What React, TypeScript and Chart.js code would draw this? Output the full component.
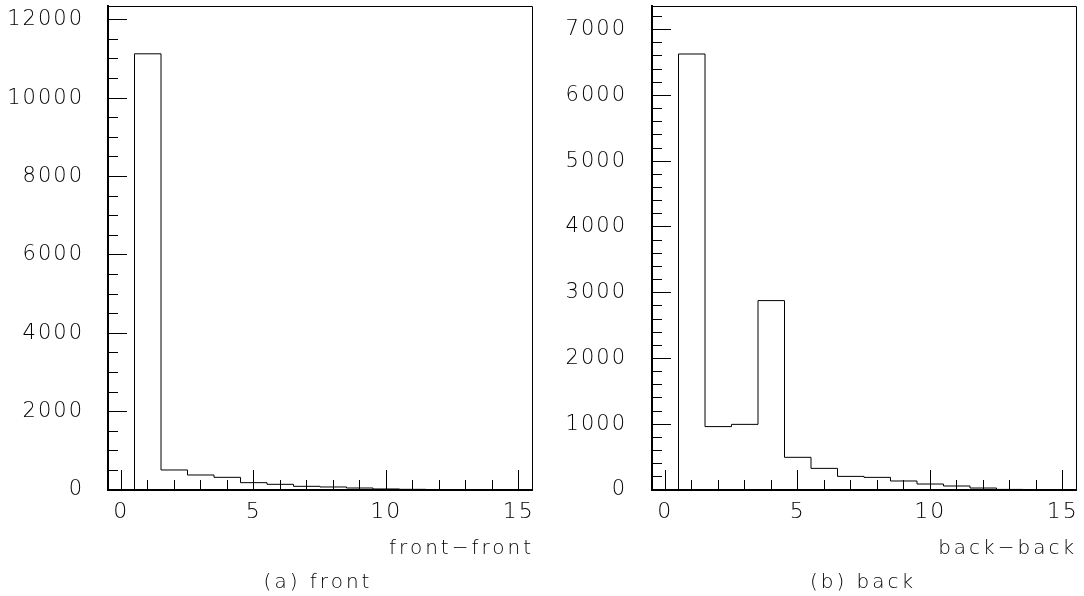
import React, { useEffect, useRef } from "react";
import { Chart, registerables } from "chart.js";

Chart.register(...registerables);

// ---- data ----
const BIN_CENTERS = [0, 1, 2, 3, 4, 5, 6, 7, 8, 9, 10, 11, 12, 13, 14, 15];
const BIN_WIDTH = 1;
const FRONT_COUNTS = [0, 11130, 511, 383, 323, 187, 145, 94, 77, 51, 26, 17, 8, 5, 3, 2];
const BACK_COUNTS = [0, 6630, 964, 998, 2880, 497, 329, 207, 192, 137, 91, 61, 30, 9, 7, 3];

const X_MAJOR_TICKS = [0, 5, 10, 15];
const X_MINOR_TICKS = [0, 1, 2, 3, 4, 5, 6, 7, 8, 9, 10, 11, 12, 13, 14, 15];
const FRONT_Y_MAJOR = [0, 2000, 4000, 6000, 8000, 10000, 12000];
const FRONT_Y_MINOR = [
  0, 500, 1000, 1500, 2000, 2500, 3000, 3500, 4000, 4500, 5000, 5500, 6000,
  6500, 7000, 7500, 8000, 8500, 9000, 9500, 10000, 10500, 11000, 11500, 12000,
];
const BACK_Y_MAJOR = [0, 1000, 2000, 3000, 4000, 5000, 6000, 7000];
const BACK_Y_MINOR = [
  0, 200, 400, 600, 800, 1000, 1200, 1400, 1600, 1800, 2000, 2200, 2400, 2600,
  2800, 3000, 3200, 3400, 3600, 3800, 4000, 4200, 4400, 4600, 4800, 5000, 5200,
  5400, 5600, 5800, 6000, 6200, 6400, 6600, 6800, 7000, 7200,
];
const X_MIN = -0.5;
const X_MAX = 15.5;
const FRONT_Y_MAX = 12350;
const BACK_Y_MAX = 7360;

const FONT = "'DejaVu Sans', 'Liberation Sans', sans-serif";

type PanelSpec = {
  counts: number[];
  yMax: number;
  yMajor: number[];
  yMinor: number[];
  yAxisWidth: number;
  yLabelPadding: number;
  rightPad: number;
};

const spacingPlugin = {
  id: "letterSpacing",
  beforeDraw(chart: any) {
    chart.ctx.letterSpacing = "2px";
  },
  afterDraw(chart: any) {
    chart.ctx.letterSpacing = "0px";
  },
};

const framePlugin = {
  id: "frameTopRight",
  afterDraw(chart: any) {
    const { ctx, chartArea } = chart;
    ctx.save();
    ctx.strokeStyle = "#000";
    ctx.lineWidth = 1;
    ctx.beginPath();
    ctx.moveTo(chartArea.left, Math.round(chartArea.top) + 0.5);
    ctx.lineTo(Math.round(chartArea.right) + 0.5, Math.round(chartArea.top) + 0.5);
    ctx.lineTo(Math.round(chartArea.right) + 0.5, chartArea.bottom);
    ctx.stroke();
    ctx.restore();
  },
};

function histPoints(counts: number[]) {
  const pts = counts.map((c, i) => ({ x: BIN_CENTERS[i] - BIN_WIDTH / 2, y: c }));
  const last = counts.length - 1;
  pts.push({ x: BIN_CENTERS[last] + BIN_WIDTH / 2, y: counts[last] });
  return pts;
}

function setTicks(values: number[]) {
  return (scale: any) => {
    scale.ticks = values.map((v) => ({ value: v }));
  };
}

function fixSize(prop: "width" | "height", size: number) {
  return (s: any) => {
    s[prop] = size;
    s.paddingTop = 0;
    s.paddingBottom = 0;
    s.paddingLeft = 0;
    s.paddingRight = 0;
  };
}

function Panel({ spec, style }: { spec: PanelSpec; style: React.CSSProperties }) {
  const ref = useRef<HTMLCanvasElement | null>(null);
  useEffect(() => {
    if (!ref.current) return;
    const chart = new Chart(ref.current, {
      type: "line",
      data: {
        datasets: [
          {
            data: histPoints(spec.counts),
            stepped: "before",
            borderColor: "#000",
            borderWidth: 1,
            pointRadius: 0,
            fill: false,
            xAxisID: "x",
            yAxisID: "y",
          } as any,
        ],
      },
      options: {
        animation: false,
        responsive: false,
        devicePixelRatio: 1,
        events: [],
        layout: { padding: { top: 6, right: spec.rightPad, left: 0, bottom: 0 } },
        plugins: { legend: { display: false }, tooltip: { enabled: false } },
        scales: {
          x: {
            type: "linear",
            position: "bottom",
            weight: 1,
            min: X_MIN,
            max: X_MAX,
            afterBuildTicks: setTicks(X_MAJOR_TICKS),
            afterFit: fixSize("height", 106),
            grid: { drawOnChartArea: false, tickLength: -20, tickColor: "#000", tickWidth: 1 },
            border: { display: true, color: "#000", width: 2 },
            ticks: {
              padding: 29,
              color: "#000",
              autoSkip: false,
              maxRotation: 0,
              font: { family: FONT, size: 22, weight: "200" as any },
              callback: (v: any) => String(v),
            },
          },
          xMinor: {
            type: "linear",
            position: "bottom",
            weight: 0,
            min: X_MIN,
            max: X_MAX,
            afterBuildTicks: setTicks(X_MINOR_TICKS),
            afterFit: fixSize("height", 0),
            grid: { drawOnChartArea: false, tickLength: -10, tickColor: "#000", tickWidth: 1 },
            border: { display: false },
            ticks: { display: false },
          },
          y: {
            type: "linear",
            position: "left",
            weight: 1,
            min: 0,
            max: spec.yMax,
            afterBuildTicks: setTicks(spec.yMajor),
            afterFit: fixSize("width", spec.yAxisWidth),
            grid: { drawOnChartArea: false, tickLength: -19, tickColor: "#000", tickWidth: 1 },
            border: { display: true, color: "#000", width: 2 },
            ticks: {
              padding: spec.yLabelPadding,
              color: "#000",
              autoSkip: false,
              font: { family: FONT, size: 21, weight: "200" as any },
              callback: (v: any) => String(v),
            },
          },
          yMinor: {
            type: "linear",
            position: "left",
            weight: 0,
            min: 0,
            max: spec.yMax,
            afterBuildTicks: setTicks(spec.yMinor),
            afterFit: fixSize("width", 0),
            grid: { drawOnChartArea: false, tickLength: -10, tickColor: "#000", tickWidth: 1 },
            border: { display: false },
            ticks: { display: false },
          },
        },
      } as any,
      plugins: [spacingPlugin, framePlugin],
    });
    return () => chart.destroy();
  }, [spec]);
  return <canvas ref={ref} width={542} height={596} style={{ display: "block", position: "absolute", ...style }} />;
}

const FRONT_SPEC: PanelSpec = {
  counts: FRONT_COUNTS,
  yMax: FRONT_Y_MAX,
  yMajor: FRONT_Y_MAJOR,
  yMinor: FRONT_Y_MINOR,
  yAxisWidth: 108,
  yLabelPadding: 43,
  rightPad: 10,
};

const BACK_SPEC: PanelSpec = {
  counts: BACK_COUNTS,
  yMax: BACK_Y_MAX,
  yMajor: BACK_Y_MAJOR,
  yMinor: BACK_Y_MINOR,
  yAxisWidth: 110,
  yLabelPadding: 44,
  rightPad: 8,
};

const textStyle: React.CSSProperties = {
  position: "absolute",
  fontFamily: FONT,
  fontWeight: 200,
  fontSize: "20px",
  lineHeight: "20px",
  letterSpacing: "3px",
  color: "#000",
  whiteSpace: "nowrap",
};

export default function App() {
  return (
    <div style={{ position: "absolute", left: 0, top: 0, width: 1084, height: 596, background: "#fff", overflow: "hidden" }}>
      <Panel spec={FRONT_SPEC} style={{ left: 0, top: 0 }} />
      <Panel spec={BACK_SPEC} style={{ left: 542, top: 0 }} />
      <div style={{ ...textStyle, right: 1084 - 534, top: 537 }}>front−front</div>
      <div style={{ ...textStyle, right: 1084 - 1077, top: 537 }}>back−back</div>
      <div style={{ ...textStyle, left: 318, top: 571, transform: "translateX(-50%)" }}>(a) front</div>
      <div style={{ ...textStyle, left: 863, top: 571, transform: "translateX(-50%)" }}>(b) back</div>
    </div>
  );
}
